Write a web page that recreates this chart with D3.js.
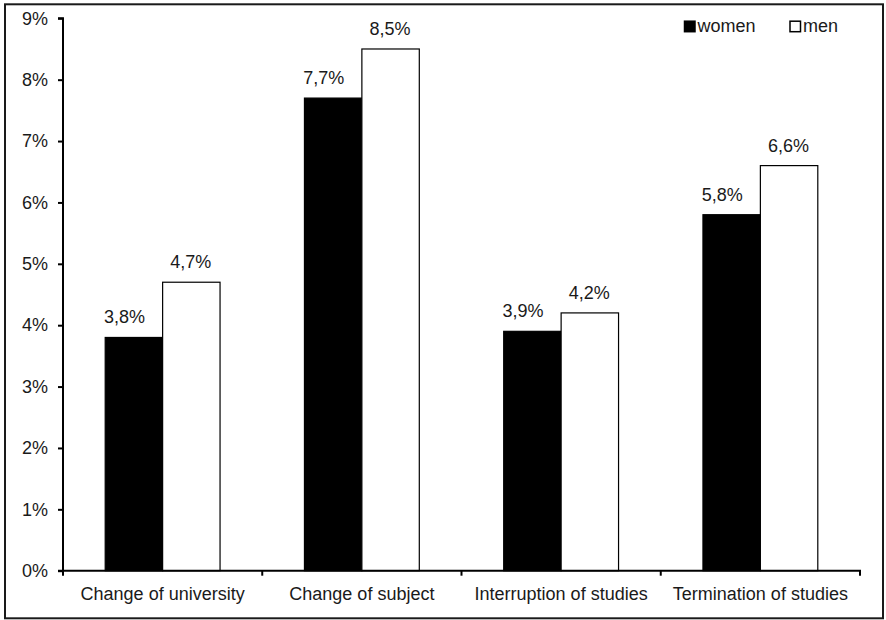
<!DOCTYPE html>
<html>
<head>
<meta charset="utf-8">
<script src="https://cdn.jsdelivr.net/npm/d3@7"></script>
<style>
  html, body { margin: 0; padding: 0; background: #fff; }
  svg { display: block; font-family: "Liberation Sans", Arial, sans-serif; }
</style>
</head>
<body>
<svg id="chart" width="886" height="620"></svg>
<script>
// Shares of students by type of study change, by gender
const categories = ["Change of university", "Change of subject", "Interruption of studies", "Termination of studies"];
const seriesNames = ["women", "men"];
const women = [3.8, 7.7, 3.9, 5.8];
const men = [4.7, 8.5, 4.2, 6.6];
const yTicks = [0, 1, 2, 3, 4, 5, 6, 7, 8, 9];

const svg = d3.select("#chart");
const ink = "#1a1a1a";

// outer frame
svg.append("rect")
  .attr("x", 5).attr("y", 4.3)
  .attr("width", 878).attr("height", 614)
  .attr("fill", "#fff").attr("stroke", ink).attr("stroke-width", 2);

const plot = { left: 63, right: 860, top: 18.3, bottom: 570.7 };

const x = d3.scaleBand().domain(categories).range([plot.left, plot.right]);
const y = d3.scaleLinear().domain([0, 9]).range([plot.bottom, plot.top]);

// bars: gap between groups is about 1.5× a bar width
const barW = x.bandwidth() / 3.47;
const groupOffset = (x.bandwidth() - 2 * barW) / 2;
const xs = d3.scaleBand().domain(seriesNames).range([0, 2 * barW]);

const rows = categories.map((c, i) => ({ cat: c, values: [
  { s: "women", v: women[i] }, { s: "men", v: men[i] }
]}));

const g = svg.append("g");
const groups = g.selectAll("g.grp").data(rows).join("g")
  .attr("transform", d => `translate(${x(d.cat) + groupOffset},0)`);

groups.selectAll("rect").data(d => d.values).join("rect")
  .attr("x", d => xs(d.s))
  .attr("y", d => y(d.v))
  .attr("width", xs.bandwidth())
  .attr("height", d => y(0) - y(d.v))
  .attr("fill", d => d.s === "women" ? "#000" : "#fff")
  .attr("stroke", "#000")
  .attr("stroke-width", 1.2);

// value labels; the women labels sit slightly left of their bars
const labelShift = { women: -9.5, men: -0.5 };
const fmt = v => d3.format(".1f")(v).replace(".", ",") + "%";
groups.selectAll("text").data(d => d.values).join("text")
  .attr("x", d => xs(d.s) + xs.bandwidth() / 2 + labelShift[d.s])
  .attr("y", d => y(d.v) - 14)
  .attr("text-anchor", "middle")
  .attr("font-size", 18)
  .attr("fill", ink)
  .text(d => fmt(d.v));

// y axis
const yAxis = d3.axisLeft(y).tickValues(yTicks).tickFormat(d => d + "%").tickSize(5).tickPadding(10);
const ya = svg.append("g").attr("transform", `translate(${plot.left},0)`).call(yAxis);
ya.select(".domain").attr("stroke", "#000").attr("stroke-width", 2).attr("d", `M-5,${plot.top}H0V${plot.bottom}`);
ya.selectAll(".tick line").attr("stroke", "#000").attr("stroke-width", 2);
ya.selectAll(".tick text").attr("font-size", 18).attr("fill", ink).attr("font-family", "Liberation Sans, Arial, sans-serif");

// x axis with ticks between categories
const xa = svg.append("g").attr("transform", `translate(0,${plot.bottom})`);
xa.append("line").attr("x1", plot.left - 5).attr("x2", plot.right + 1)
  .attr("stroke", "#000").attr("stroke-width", 2);
const bounds = categories.map(c => x(c)).concat([plot.right]);
xa.selectAll("line.sep").data(bounds).join("line").attr("class", "sep")
  .attr("x1", d => d).attr("x2", d => d).attr("y1", 0).attr("y2", 5)
  .attr("stroke", "#000").attr("stroke-width", 2);
xa.selectAll("text").data(categories).join("text")
  .attr("x", d => x(d) + x.bandwidth() / 2)
  .attr("y", 29.5)
  .attr("text-anchor", "middle")
  .attr("font-size", 18)
  .attr("fill", ink)
  .text(d => d);

// legend
const legendItems = [
  { name: "women", fill: "#000", x: 684 },
  { name: "men", fill: "#fff", x: 789.5 }
];
const lg = svg.append("g");
const li = lg.selectAll("g").data(legendItems).join("g")
  .attr("transform", d => `translate(${d.x},0)`);
li.append("rect").attr("x", 0.5).attr("y", 21.2).attr("width", 10.5).attr("height", 10.5)
  .attr("fill", d => d.fill).attr("stroke", "#000").attr("stroke-width", 1.5);
li.append("text").attr("x", 13.5).attr("y", 32.3)
  .attr("font-size", 18).attr("fill", ink).text(d => d.name);
</script>
</body>
</html>
